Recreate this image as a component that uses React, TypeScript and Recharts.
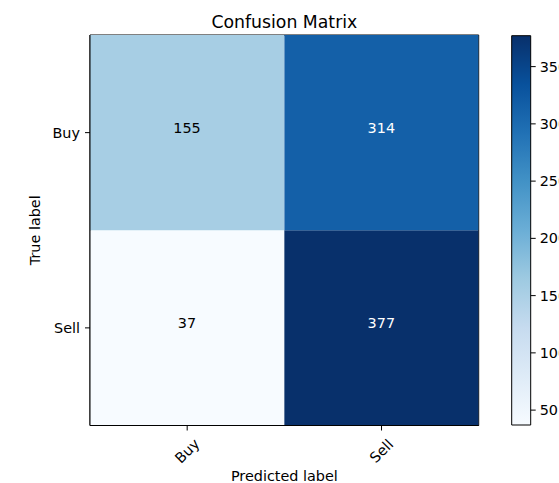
import { Bar, BarChart, Cell, Label, LabelList, ReferenceArea, XAxis, YAxis } from 'recharts'

const predictedLabels = ['Buy', 'Sell']
const trueLabels = ['Buy', 'Sell']
// counts per true label, one entry per predicted label
const buyRow = [155, 314]
const sellRow = [37, 377]
const colorbarTicks = [50, 100, 150, 200, 250, 300, 350]

// matplotlib "Blues"
const blues = ['#f7fbff', '#deebf7', '#c6dbef', '#9ecae1', '#6baed6', '#4292c6', '#2171b5', '#08519c', '#08306b']

const allCounts = [...buyRow, ...sellRow]
const vmin = Math.min(...allCounts)
const vmax = Math.max(...allCounts)
const threshold = vmax / 2

const FONT = 'DejaVu Sans, sans-serif'
const TICK_SIZE = 14.4
const TITLE_SIZE = 17.3

function hexToRgb(h: string) {
  return [1, 3, 5].map((i) => parseInt(h.slice(i, i + 2), 16))
}

function blueAt(v: number) {
  const t = Math.max(0, Math.min(1, (v - vmin) / (vmax - vmin))) * (blues.length - 1)
  const i = Math.min(Math.floor(t), blues.length - 2)
  const f = t - i
  const a = hexToRgb(blues[i])
  const b = hexToRgb(blues[i + 1])
  const c = a.map((x, k) => Math.round(x + (b[k] - x) * f))
  return `rgb(${c[0]},${c[1]},${c[2]})`
}

const matrixData = predictedLabels.map((name, j) => ({
  name,
  sellCell: 1,
  buyCell: 1,
  sellCount: sellRow[j],
  buyCount: buyRow[j],
}))

const colorbarData = [{ name: 'cb', range: [vmin, vmax] }]

function CellText(props: any) {
  const vb = props.viewBox ?? props
  const { x, y, width, height } = vb
  const value = props.value as number
  return (
    <text
      x={x + width / 2}
      y={y + height / 2}
      textAnchor="middle"
      fontSize={TICK_SIZE}
      fontFamily={FONT}
      fill={value > threshold ? '#fff' : '#000'}
    >
      {value}
    </text>
  )
}

function XTick({ x, y, payload }: any) {
  const cy = y + 18.5
  return (
    <text
      x={x}
      y={cy}
      transform={`rotate(-45 ${x} ${cy})`}
      textAnchor="middle"
      dominantBaseline="central"
      fontSize={TICK_SIZE}
      fontFamily={FONT}
      fill="#000"
    >
      {payload.value}
    </text>
  )
}

function YTitle(props: any) {
  const vb = props.viewBox
  const x = 35
  const y = vb.y + vb.height / 2
  return (
    <text
      x={x}
      y={y}
      transform={`rotate(-90 ${x} ${y})`}
      textAnchor="middle"
      dominantBaseline="central"
      fontSize={TICK_SIZE}
      fontFamily={FONT}
      fill="#000"
    >
      True label
    </text>
  )
}

export default function App() {
  return (
    <div
      style={{
        position: 'absolute',
        left: 0,
        top: 0,
        width: 559,
        height: 483,
        overflow: 'hidden',
        background: '#fff',
        fontFamily: FONT,
      }}
    >
      <div style={{ position: 'absolute', left: 0, top: 0 }}>
        <BarChart
          width={490}
          height={483}
          data={matrixData}
          barCategoryGap={0}
          barGap={0}
          margin={{ top: 35, right: 11.3, bottom: 0, left: 0 }}
        >
          <Bar dataKey="sellCell" stackId="m" isAnimationActive={false}>
            {matrixData.map((d) => (
              <Cell key={`s-${d.name}`} fill={blueAt(d.sellCount)} />
            ))}
            <LabelList dataKey="sellCount" content={<CellText />} />
          </Bar>
          <Bar dataKey="buyCell" stackId="m" isAnimationActive={false}>
            {matrixData.map((d) => (
              <Cell key={`b-${d.name}`} fill={blueAt(d.buyCount)} />
            ))}
            <LabelList dataKey="buyCount" content={<CellText />} />
          </Bar>
          <ReferenceArea
            x1={predictedLabels[0]}
            x2={predictedLabels[predictedLabels.length - 1]}
            y1={0}
            y2={trueLabels.length}
            fill="none"
            fillOpacity={0}
            stroke="#000"
            strokeWidth={1}
            ifOverflow="visible"
          >
            <Label
              value="Confusion Matrix"
              position="top"
              offset={7.5}
              fontSize={TITLE_SIZE}
              fontFamily={FONT}
              fill="#000"
            />
          </ReferenceArea>
          <XAxis
            dataKey="name"
            height={57.5}
            interval={0}
            tickSize={5}
            tickLine={{ stroke: '#000' }}
            axisLine={{ stroke: '#000' }}
            tick={<XTick />}
          >
            <Label
              value="Predicted label"
              position="insideBottom"
              offset={2}
              fontSize={TICK_SIZE}
              fontFamily={FONT}
              fill="#000"
            />
          </XAxis>
          <YAxis
            type="number"
            domain={[0, trueLabels.length]}
            ticks={[0.5, 1.5]}
            tickFormatter={(v: number) => trueLabels[trueLabels.length - 1 - Math.floor(v)]}
            width={90}
            tickSize={5}
            tickMargin={5}
            tickLine={{ stroke: '#000' }}
            axisLine={{ stroke: '#000' }}
            tick={{ fill: '#000', fontSize: TICK_SIZE, fontFamily: FONT }}
          >
            <Label content={<YTitle />} />
          </YAxis>
        </BarChart>
      </div>
      <div style={{ position: 'absolute', left: 490, top: 0 }}>
        <BarChart
          width={69}
          height={483}
          data={colorbarData}
          barCategoryGap={0}
          margin={{ top: 35.7, right: 0, bottom: 58, left: 21.7 }}
        >
          <defs>
            <linearGradient id="blues-cb" x1="0" y1="0" x2="0" y2="1">
              {blues
                .slice()
                .reverse()
                .map((c, i) => (
                  <stop key={c} offset={`${(i / (blues.length - 1)) * 100}%`} stopColor={c} />
                ))}
            </linearGradient>
          </defs>
          <Bar
            dataKey="range"
            fill="url(#blues-cb)"
            stroke="#000"
            strokeWidth={1}
            isAnimationActive={false}
          />
          <XAxis dataKey="name" hide />
          <YAxis
            orientation="right"
            type="number"
            domain={[vmin, vmax]}
            ticks={colorbarTicks}
            width={28.3}
            tickSize={5}
            tickMargin={4}
            axisLine={false}
            tickLine={{ stroke: '#000' }}
            tick={{ fill: '#000', fontSize: TICK_SIZE, fontFamily: FONT, textAnchor: 'start' }}
          />
        </BarChart>
      </div>
    </div>
  )
}
